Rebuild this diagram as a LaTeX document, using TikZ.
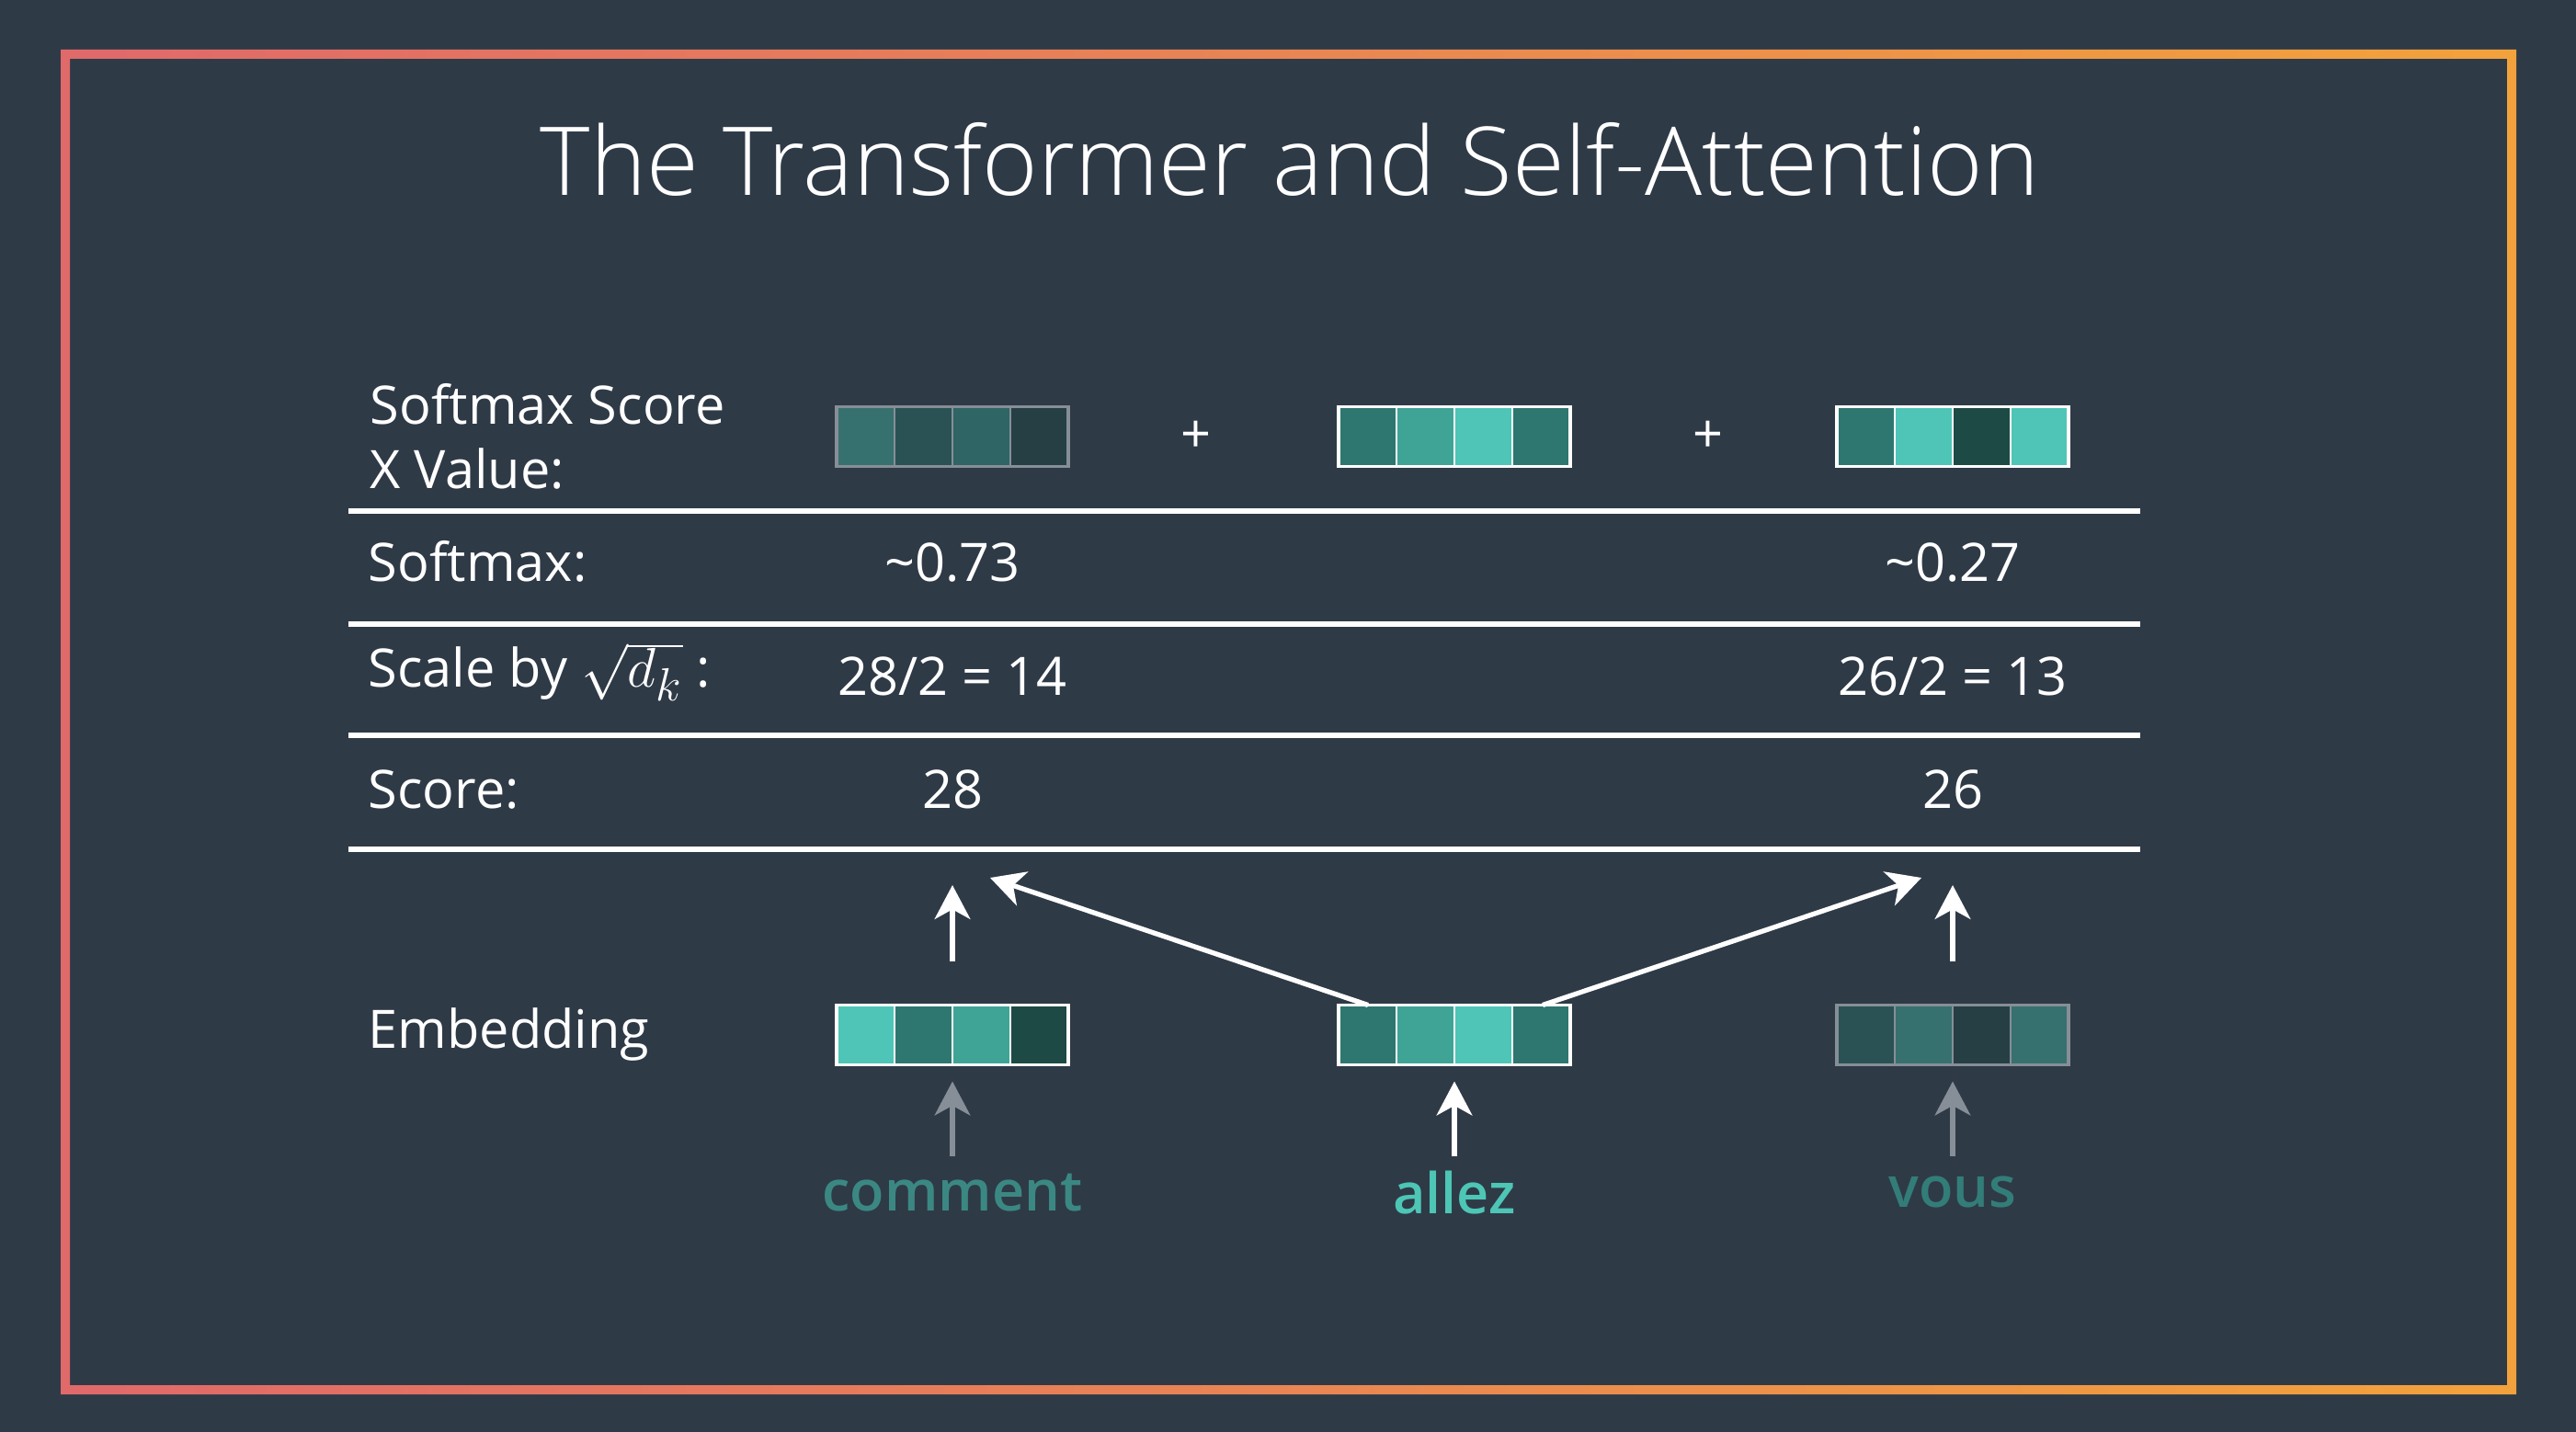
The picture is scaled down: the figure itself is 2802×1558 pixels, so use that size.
\documentclass[tikz,border=0pt]{standalone}
\usepackage{fontspec}
\setmainfont{Open Sans}
\newfontfamily\titlefont{Open Sans Light}
\IfFontExistsTF{Open Sans SemiBold}
  {\newfontfamily\wordfont{Open Sans SemiBold}}
  {\IfFontExistsTF{Open Sans Semibold}
    {\newfontfamily\wordfont{Open Sans Semibold}}
    {\newfontfamily\wordfont{Open Sans}[FakeBold=0.6]}}
\usetikzlibrary{calc}
\usetikzlibrary{arrows.meta}

\definecolor{bgcol}{HTML}{2F3A47}
\definecolor{frameL}{HTML}{E0696A}
\definecolor{frameR}{HTML}{F2A23C}
\definecolor{tealA}{HTML}{4EC5B7}
\definecolor{tealB}{HTML}{3FA496}
\definecolor{tealC}{HTML}{2E7770}
\definecolor{tealD}{HTML}{1E4A45}
\definecolor{dimA}{HTML}{37716F}
\definecolor{dimB}{HTML}{2F6565}
\definecolor{dimC}{HTML}{2A5255}
\definecolor{dimD}{HTML}{253F45}
\definecolor{vecgray}{HTML}{868E97}
\definecolor{wordhi}{HTML}{4DC6B6}
\definecolor{wordlo}{HTML}{3B8883}
\definecolor{wordvo}{HTML}{337D78}

% four cell vector: name, x, y, border colour, cell colours
\newcommand{\embvec}[5]{%
  \foreach \col [count=\i from 0] in {#5}
    \fill[\col] ({#2-126+63*\i},{#3-32}) rectangle ++(63,65);
  \foreach \i in {1,2,3}
    \draw[#4, line width=0.8pt] ({#2-126+63*\i},{#3-32}) --++(0,65);
  \node[vecbox, draw=#4] (#1) at (#2,#3) {};
}

\begin{document}
\begin{tikzpicture}[x=0.01cm, y=-0.01cm,
  lbl/.style={anchor=base west, text=white, font=\fontsize{16.4}{20}\selectfont, inner sep=0},
  val/.style={anchor=base, text=white, font=\fontsize{16.4}{20}\selectfont, inner sep=0},
  word/.style={anchor=base, font=\wordfont\fontsize{17.4}{22}\selectfont, inner sep=0},
  vecbox/.style={minimum width=2.52cm, minimum height=0.65cm, inner sep=0, outer sep=0, line width=1.1pt},
  rule/.style={white, line width=1.7pt},
  uparrow/.style={white, line width=1.5pt, -{Stealth[length=10.5pt, width=11pt, inset=3pt]}},
]
\fill[bgcol] (0,0) rectangle (2802,1558);
\shade[left color=frameL, right color=frameR, even odd rule]
  (66,54) rectangle (2737,1517) (76,64) rectangle (2727,1507);

\node[anchor=base, text=white, font=\titlefont\fontsize{29.4}{34}\selectfont, inner sep=0] (title) at (1403,213) {The Transformer and Self-Attention};

% table rules
\foreach \y in {556, 679, 800, 924}
  \draw[rule] (379,\y) -- (2328,\y);

% row labels
\node[lbl] (lblsv1) at (402,462) {Softmax Score};
\node[lbl] (lblsv2) at (402,532) {X Value:};
\node[lbl] (lblsm) at (400,633) {Softmax:};
\node[lbl] (lblsc) at (400,748) {Scale by {\fontsize{19}{22}\selectfont$\sqrt{d_k}$} :};
\node[lbl] (lblsr) at (400,879) {Score:};
\node[lbl] (lblemb) at (400,1140) {Embedding};

% values
\node[val] (sm1) at (1036,633) {\textasciitilde0.73};
\node[val] (sm3) at (2124,633) {\textasciitilde0.27};
\node[val] (sc1) at (1036,756) {28/2 = 14};
\node[val] (sc3) at (2124,756) {26/2 = 13};
\node[val] (sr1) at (1036,879) {28};
\node[val] (sr3) at (2124,879) {26};
\node[val, anchor=center] (plusA) at (1301,475) {+};
\node[val, anchor=center] (plusB) at (1858,475) {+};

% vectors
\embvec{sv1}{1036}{475}{vecgray}{dimA,dimC,dimB,dimD}
\embvec{sv2}{1582}{475}{white}{tealC,tealB,tealA,tealC}
\embvec{sv3}{2124}{475}{white}{tealC,tealA,tealD,tealA}
\embvec{emb1}{1036}{1126}{white}{tealA,tealC,tealB,tealD}
\embvec{emb2}{1582}{1126}{white}{tealC,tealB,tealA,tealC}
\embvec{emb3}{2124}{1126}{vecgray}{dimC,dimA,dimD,dimA}

% words
\node[word, text=wordlo] (wcmt) at (1036,1317) {comment};
\node[word, text=wordhi] (wallez) at (1582,1320) {allez};
\node[word, text=wordvo] (wvous) at (2124,1313) {vous};

% arrows
\draw[uparrow, vecgray] ($(wcmt.base)+(0,-59)$) -- ($(emb1.south)+(0,18)$);
\draw[uparrow] ($(wallez.base)+(0,-62)$) -- ($(emb2.south)+(0,18)$);
\draw[uparrow, vecgray] ($(wvous.base)+(0,-55)$) -- ($(emb3.south)+(0,18)$);
\draw[uparrow] ($(emb1.north)+(0,-47)$) -- ($(sr1.base)+(0,84)$);
\draw[uparrow] ($(emb3.north)+(0,-47)$) -- ($(sr3.base)+(0,84)$);
\draw[uparrow] ($(emb2.north)+(-94,0)$) -- ($(sr1.base)+(41,76)$);
\draw[uparrow] ($(emb2.north)+(96,0)$) -- ($(sr3.base)+(-34,76)$);
\end{tikzpicture}
\end{document}
